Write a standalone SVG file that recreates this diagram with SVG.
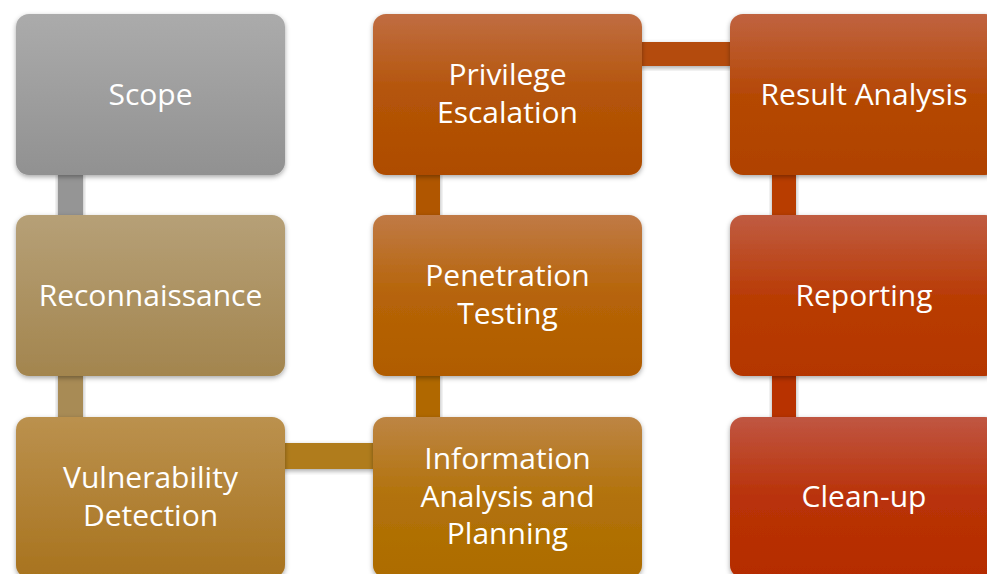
<svg xmlns="http://www.w3.org/2000/svg" width="987" height="574" viewBox="0 0 987 574">
  <defs>
    <filter id="shadow" x="-10%" y="-10%" width="120%" height="130%">
      <feDropShadow dx="0" dy="2" stdDeviation="2.5" flood-color="#000" flood-opacity="0.35"/>
    </filter>
    <linearGradient id="g-scope" x1="0" y1="0" x2="0" y2="1"><stop offset="0" stop-color="#ababab"/><stop offset="1" stop-color="#919191"/></linearGradient>
    <linearGradient id="g-recon" x1="0" y1="0" x2="0" y2="1"><stop offset="0" stop-color="#b6a077"/><stop offset="1" stop-color="#a3854e"/></linearGradient>
    <linearGradient id="g-vuln" x1="0" y1="0" x2="0" y2="1"><stop offset="0" stop-color="#bb914e"/><stop offset="1" stop-color="#a8731e"/></linearGradient>
    <linearGradient id="g-info" x1="0" y1="0" x2="0" y2="1"><stop offset="0" stop-color="#bd8544"/><stop offset="0.5" stop-color="#b2720a"/><stop offset="1" stop-color="#ad6c00"/></linearGradient>
    <linearGradient id="g-pen" x1="0" y1="0" x2="0" y2="1"><stop offset="0" stop-color="#c07a46"/><stop offset="0.5" stop-color="#b66408"/><stop offset="1" stop-color="#b05c00"/></linearGradient>
    <linearGradient id="g-priv" x1="0" y1="0" x2="0" y2="1"><stop offset="0" stop-color="#c06d42"/><stop offset="0.5" stop-color="#b45408"/><stop offset="1" stop-color="#ae4c00"/></linearGradient>
    <linearGradient id="g-result" x1="0" y1="0" x2="0" y2="1"><stop offset="0" stop-color="#c06340"/><stop offset="0.5" stop-color="#b54806"/><stop offset="1" stop-color="#b04200"/></linearGradient>
    <linearGradient id="g-report" x1="0" y1="0" x2="0" y2="1"><stop offset="0" stop-color="#c05c42"/><stop offset="0.5" stop-color="#b93c06"/><stop offset="1" stop-color="#b43600"/></linearGradient>
    <linearGradient id="g-clean" x1="0" y1="0" x2="0" y2="1"><stop offset="0" stop-color="#c05642"/><stop offset="0.5" stop-color="#b93208"/><stop offset="1" stop-color="#b52c00"/></linearGradient>
  </defs>
  <style>
    .box { filter: url(#shadow); }
    .bar { filter: url(#shadow); }
    .label { font-family: "Open Sans", "Noto Sans", "Liberation Sans", sans-serif; font-size: 30px; fill: #ffffff; text-anchor: middle; }
  </style>
  <rect width="987" height="574" fill="#ffffff"/>

  <!-- connecting bars -->
  <g id="connectors">
    <rect class="bar" x="58" y="172" width="25" height="46" fill="#959595"/>
    <rect class="bar" x="58" y="373" width="25" height="47" fill="#a88b55"/>
    <rect class="bar" x="282" y="443" width="94" height="26" fill="#b07c1c"/>
    <rect class="bar" x="416" y="373" width="24" height="47" fill="#b06800"/>
    <rect class="bar" x="416" y="172" width="24" height="46" fill="#b05600"/>
    <rect class="bar" x="639" y="42" width="94" height="24" fill="#b44c0a"/>
    <rect class="bar" x="772" y="172" width="24" height="46" fill="#b83e00"/>
    <rect class="bar" x="772" y="373" width="24" height="47" fill="#b83300"/>
  </g>

  <!-- column 1 -->
  <g id="scope">
    <rect class="box" x="16" y="14" width="269" height="161" rx="13" fill="url(#g-scope)"/>
    <text class="label" x="150.5" y="105">Scope</text>
  </g>
  <g id="reconnaissance">
    <rect class="box" x="16" y="215" width="269" height="161" rx="13" fill="url(#g-recon)"/>
    <text class="label" x="150.5" y="306">Reconnaissance</text>
  </g>
  <g id="vulnerability-detection">
    <rect class="box" x="16" y="417" width="269" height="161" rx="13" fill="url(#g-vuln)"/>
    <text class="label" x="150.5" y="488">Vulnerability</text>
    <text class="label" x="150.5" y="526">Detection</text>
  </g>

  <!-- column 2 -->
  <g id="information-analysis">
    <rect class="box" x="373" y="417" width="269" height="161" rx="13" fill="url(#g-info)"/>
    <text class="label" x="507.5" y="469">Information</text>
    <text class="label" x="507.5" y="507">Analysis and</text>
    <text class="label" x="507.5" y="544">Planning</text>
  </g>
  <g id="penetration-testing">
    <rect class="box" x="373" y="215" width="269" height="161" rx="13" fill="url(#g-pen)"/>
    <text class="label" x="507.5" y="286">Penetration</text>
    <text class="label" x="507.5" y="324">Testing</text>
  </g>
  <g id="privilege-escalation">
    <rect class="box" x="373" y="14" width="269" height="161" rx="13" fill="url(#g-priv)"/>
    <text class="label" x="507.5" y="85">Privilege</text>
    <text class="label" x="507.5" y="123">Escalation</text>
  </g>

  <!-- column 3 -->
  <g id="result-analysis">
    <rect class="box" x="730" y="14" width="268" height="161" rx="13" fill="url(#g-result)"/>
    <text class="label" x="864" y="105">Result Analysis</text>
  </g>
  <g id="reporting">
    <rect class="box" x="730" y="215" width="268" height="161" rx="13" fill="url(#g-report)"/>
    <text class="label" x="864" y="306">Reporting</text>
  </g>
  <g id="clean-up">
    <rect class="box" x="730" y="417" width="268" height="161" rx="13" fill="url(#g-clean)"/>
    <text class="label" x="864" y="507">Clean-up</text>
  </g>
</svg>
